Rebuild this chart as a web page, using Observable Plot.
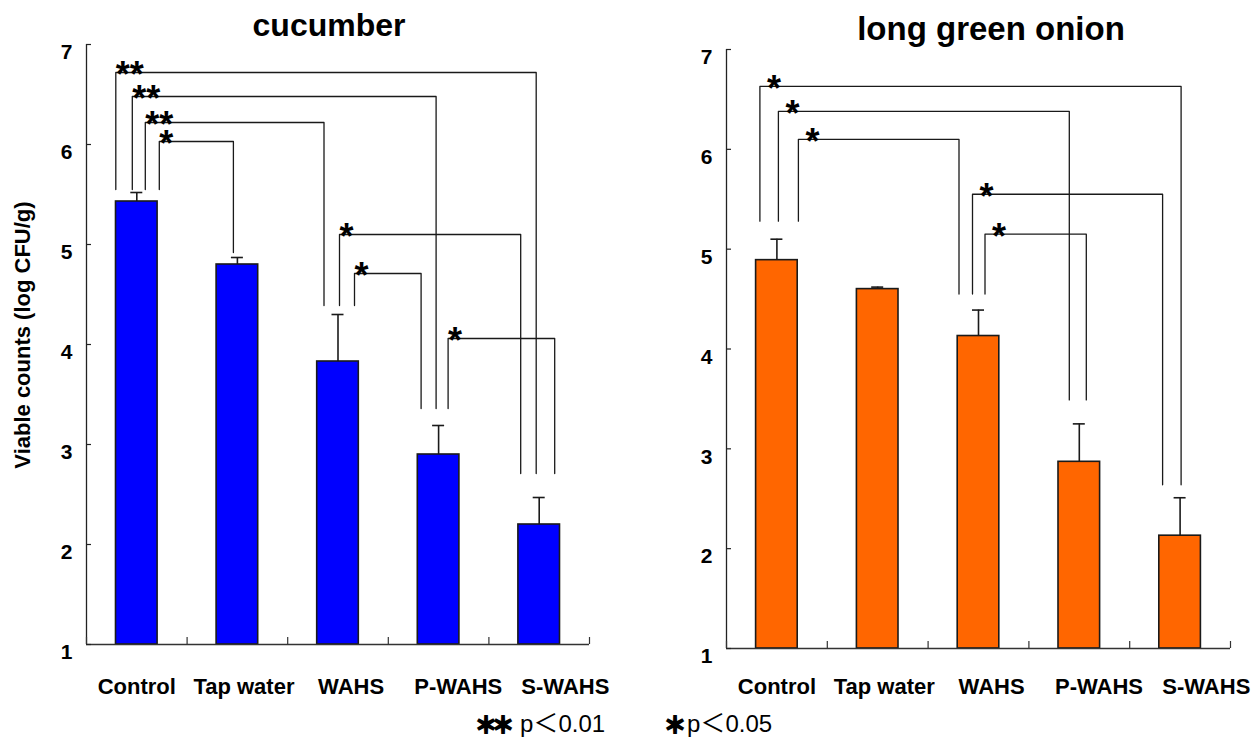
<!DOCTYPE html>
<html><head><meta charset="utf-8">
<script src="https://cdn.jsdelivr.net/npm/d3@7"></script>
<script src="https://cdn.jsdelivr.net/npm/@observablehq/plot@0.6"></script>
<style>
html,body{margin:0;padding:0;background:#fff;}
#wrap{position:relative;width:1259px;height:740px;overflow:hidden;font-family:"Liberation Sans",Arial,sans-serif;color:#000;}
.panel{position:absolute;top:0;}
.title{position:absolute;font-weight:bold;text-align:center;white-space:nowrap;line-height:1;width:400px;}
.ylab{position:absolute;font-weight:bold;font-size:22px;white-space:nowrap;line-height:1;transform:translate(-50%,-50%) rotate(-90deg);}
.leg{position:absolute;white-space:nowrap;line-height:1;}
.legstar{font-family:"Noto Sans CJK JP","Noto Sans CJK SC",sans-serif;font-size:22px;font-weight:bold;letter-spacing:-5px;-webkit-text-stroke:2px #000;}
.legtext{font-size:24px;}
.lt{font-family:"Noto Sans CJK JP","Noto Sans CJK SC",sans-serif;font-size:25px;line-height:0;}
</style></head><body><div id="wrap"></div>
<script>
// ---- data ----
const categories = ["Control", "Tap water", "WAHS", "P-WAHS", "S-WAHS"];
const yTicks = [1, 2, 3, 4, 5, 6, 7];
const yLabel = "Viable counts (log CFU/g)";

const cucumberMean = [5.43, 4.80, 3.83, 2.90, 2.20];
const cucumberErr  = [0.09, 0.07, 0.47, 0.29, 0.27];
const onionMean    = [4.89, 4.60, 4.13, 2.87, 2.13];
const onionErr     = [0.21, 0.02, 0.26, 0.38, 0.38];

// significance brackets: pairs of category indices, bracket height (log CFU/g), marker
const cucumberPairs  = [[0, 4], [0, 3], [0, 2], [0, 1], [2, 4], [2, 3], [3, 4]];
const cucumberLevels = [6.72, 6.48, 6.22, 6.03, 5.10, 4.71, 4.06];
const cucumberMarks  = ["**", "**", "**", "*", "*", "*", "*"];
const cucumberLegEnds = [5.55, 4.92, 4.39, 3.36, 2.71];

const onionPairs  = [[0, 4], [0, 3], [0, 2], [2, 4], [2, 3]];
const onionLevels = [6.63, 6.38, 6.10, 5.55, 5.15];
const onionMarks  = ["*", "*", "*", "*", "*"];
const onionLegEnds = [5.28, null, 4.55, 3.49, 2.64];

const legendMarks = ["＊＊", "＊"];
const legendTexts = ["p＜0.01", "p＜0.05"];

// ---- layout / style ----
const labelSpread = 1.065;
const panels = [
  {title: "cucumber", mean: cucumberMean, err: cucumberErr, pairs: cucumberPairs, levels: cucumberLevels,
   marks: cucumberMarks, legEnds: cucumberLegEnds, fill: "#0000FF",
   left: 0, width: 630, mt: 44, mb: 96, ml: 86, mr: 41,
   legOff: [[-21, -3], [-4.5, -2.5], [8.5, -14], [22.5, -4], [1.5, -18.5], [16.5, -17.5], [9.5, 15.5]],
   starDx: 0, labelDy: 42, titleCx: 329, titleTop: 9, titleSize: 32},
  {title: "long green onion", mean: onionMean, err: onionErr, pairs: onionPairs, levels: onionLevels,
   marks: onionMarks, legEnds: onionLegEnds, fill: "#FF6600",
   left: 630, width: 629, mt: 49, mb: 92, ml: 96, mr: 29,
   legOff: [[-17, 1], [1.5, -10], [21.5, -19.5], [-6, -17.5], [6.5, 7]],
   starDx: 7, labelDy: 38, titleCx: 991, titleTop: 12, titleSize: 33}
];

const wrap = document.getElementById("wrap");

function makePanel(p) {
  const rows = categories.map((c, i) => ({i, cat: c, mean: p.mean[i], top: p.mean[i] + p.err[i]}));
  const H = 740;
  const fw = p.width - p.ml - p.mr, fh = H - p.mt - p.mb;
  const ppu = fw / categories.length;
  const xDomain = [-0.5, categories.length - 0.5];
  const yDomain = [yTicks[0], yTicks[yTicks.length - 1]];
  const boundaries = d3.range(categories.length + 1).map(k => k - 0.5);
  const pts = [], stars = [];
  p.pairs.forEach(([a, b], k) => {
    const xa = a + p.legOff[k][0] / ppu, xb = b + p.legOff[k][1] / ppu;
    pts.push({k, x: xa, y: p.legEnds[a]}, {k, x: xa, y: p.levels[k]},
             {k, x: xb, y: p.levels[k]}, {k, x: xb, y: p.legEnds[b]});
    stars.push({x: xa, y: p.levels[k], t: p.marks[k]});
  });
  const ink = "#1a1a1a";
  return Plot.plot({
    width: p.width, height: H,
    marginTop: p.mt, marginBottom: p.mb, marginLeft: p.ml, marginRight: p.mr,
    x: {type: "linear", domain: xDomain, axis: null},
    y: {type: "linear", domain: yDomain, axis: null},
    style: {fontFamily: '"Liberation Sans", Arial, sans-serif', fontWeight: "bold", color: "#000",
            background: "transparent", overflow: "visible"},
    marks: [
      Plot.ruleX(rows, {x: "i", y1: "mean", y2: "top", stroke: ink, strokeWidth: 1.6}),
      Plot.ruleY(rows, {y: "top", x1: "i", x2: "i", insetLeft: -6, insetRight: -6, stroke: ink, strokeWidth: 1.6}),
      Plot.rect(rows, {x1: "i", x2: "i", y1: yDomain[0], y2: "mean", fill: p.fill, stroke: ink,
                       strokeWidth: 1.6, insetLeft: -20.8, insetRight: -20.8}),
      Plot.line(pts, {x: "x", y: "y", z: "k", stroke: ink, strokeWidth: 1.3}),
      Plot.text(stars, {x: "x", y: "y", text: "t", textAnchor: "start", lineAnchor: "bottom",
                        dx: p.starDx, dy: 14.5, fontSize: 36, fontWeight: "bold", fill: "#000"}),
      Plot.ruleX([xDomain[0]], {stroke: "#222", strokeWidth: 1.3}),
      Plot.ruleY([yDomain[0]], {stroke: "#333", strokeWidth: 1.3}),
      Plot.tickY(yTicks, {y: d => d, insetRight: fw - 5, stroke: "#222", strokeWidth: 1.2}),
      Plot.tickX(boundaries, {x: d => d, insetTop: fh - 7, stroke: "#333", strokeWidth: 1.2}),
      Plot.text(yTicks, {x: xDomain[0], y: d => d, text: d => String(d), textAnchor: "end",
                         dx: -14, dy: 8, fontSize: 21, fill: "#000"}),
      Plot.text(categories, {x: (d, i) => i * labelSpread, y: yDomain[0], text: d => d,
                             dy: p.labelDy, fontSize: 22, fill: "#000"})
    ]
  });
}

panels.forEach(p => {
  const svg = makePanel(p);
  svg.classList.add("panel");
  svg.style.left = p.left + "px";
  wrap.appendChild(svg);
  const t = document.createElement("div");
  t.className = "title";
  t.textContent = p.title;
  t.style.fontSize = p.titleSize + "px";
  t.style.left = (p.titleCx - 200) + "px";
  t.style.top = p.titleTop + "px";
  wrap.appendChild(t);
});

const yl = document.createElement("div");
yl.className = "ylab";
yl.textContent = yLabel;
yl.style.left = "23px";
yl.style.top = "335px";
wrap.appendChild(yl);

const legendPos = [{star: 475, text: 520}, {star: 664, text: 687}];
legendMarks.forEach((m, i) => {
  const s = document.createElement("div");
  s.className = "leg legstar";
  s.textContent = m;
  s.style.left = legendPos[i].star + "px";
  s.style.top = "712px";
  wrap.appendChild(s);
  const tx = document.createElement("div");
  tx.className = "leg legtext";
  const parts = legendTexts[i].split("＜");
  tx.append(parts[0]);
  const lt = document.createElement("span");
  lt.className = "lt";
  lt.textContent = "＜";
  tx.append(lt);
  tx.append(parts[1]);
  tx.style.left = legendPos[i].text + "px";
  tx.style.top = "712px";
  wrap.appendChild(tx);
});
</script>
</body></html>
